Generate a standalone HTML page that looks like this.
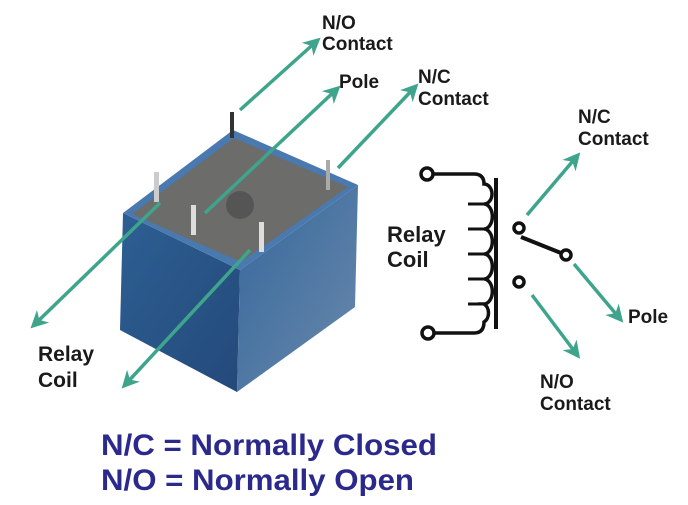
<!DOCTYPE html>
<html><head><meta charset="utf-8"><style>
html,body{margin:0;padding:0;background:#fff;}
svg{display:block;}
text{font-family:"Liberation Sans",sans-serif;font-weight:bold;}
</style></head><body>
<svg width="688" height="505" viewBox="0 0 688 505" xmlns="http://www.w3.org/2000/svg">
<defs>
<marker id="ah" viewBox="0 0 10 10" refX="8" refY="5" markerWidth="5" markerHeight="5" orient="auto-start-reverse">
<path d="M0,0 L10,5 L0,10 L3,5 z" fill="#3ea58c"/></marker>
<linearGradient id="fl" x1="0" y1="0" x2="1" y2="1"><stop offset="0" stop-color="#2d5f93"/><stop offset="1" stop-color="#24497a"/></linearGradient>
<linearGradient id="rt" x1="0" y1="0" x2="1" y2="1"><stop offset="0" stop-color="#35679b"/><stop offset="1" stop-color="#6a89ac"/></linearGradient>
</defs>
<polygon points="123,213 240,270 237,392 120,330" fill="url(#fl)"/>
<polygon points="240,270 358,185 355,307 237,392" fill="url(#rt)"/>
<polygon points="123,213 233,130 358,185 240,270" fill="#4a79b0"/>
<polygon points="132,214 234,138 348,187 241,262" fill="#6c6c6a"/>
<circle cx="240" cy="205" r="14" fill="#555"/>
<rect x="230" y="112" width="4" height="26" fill="#333"/>
<rect x="154" y="172" width="5" height="30" fill="#ccc"/>
<rect x="326" y="160" width="4" height="30" fill="#aaa"/>
<rect x="191" y="205" width="5" height="30" fill="#ddd"/>
<rect x="259" y="222" width="5" height="30" fill="#ddd"/>
<g stroke="#3ea58c" stroke-width="3.5" fill="none">
<line x1="240" y1="110" x2="318" y2="40" marker-end="url(#ah)"/>
<line x1="205" y1="213" x2="338" y2="88" marker-end="url(#ah)"/>
<line x1="338" y1="168" x2="416" y2="86" marker-end="url(#ah)"/>
<line x1="160" y1="203" x2="33" y2="326" marker-end="url(#ah)"/>
<line x1="250" y1="250" x2="124" y2="386" marker-end="url(#ah)"/>
<line x1="527" y1="215" x2="578" y2="155" marker-end="url(#ah)"/>
<line x1="574" y1="264" x2="621" y2="320" marker-end="url(#ah)"/>
<line x1="532" y1="295" x2="578" y2="356" marker-end="url(#ah)"/>
</g>
<g stroke="#111" stroke-width="3.5" fill="none">
<circle cx="427" cy="174" r="6"/>
<circle cx="428" cy="333" r="6"/>
<path d="M433,174 L474,174 Q484,174 484,184 A8,10 0 0 1 484,204 A8,12 0 0 1 484,229 A8,12 0 0 1 484,254 A8,12 0 0 1 484,279 A8,12 0 0 1 484,304 A8,10 0 0 1 484,322 Q484,333 474,333 L434,333"/>
<path d="M468,204 H484 M468,229 H484 M468,254 H484 M468,279 H484 M468,304 H484" stroke-width="3"/>
<line x1="496" y1="178" x2="496" y2="329" stroke-width="4"/>
<circle cx="519" cy="228" r="5"/>
<circle cx="566" cy="255" r="5"/>
<circle cx="519" cy="282" r="5"/>
<line x1="521" y1="237" x2="561" y2="253" stroke-width="4"/>
</g>
<g fill="#1a1a1a" font-size="19">
<text x="322" y="29">N/O</text><text x="322" y="50">Contact</text>
<text x="339" y="88">Pole</text>
<text x="418" y="83">N/C</text><text x="418" y="105">Contact</text>
<text x="578" y="123">N/C</text><text x="578" y="145">Contact</text>
<text x="628" y="323">Pole</text>
<text x="540" y="388">N/O</text><text x="540" y="410">Contact</text>
<text x="387" y="242" font-size="22">Relay</text><text x="387" y="267" font-size="22">Coil</text>
<text x="38" y="361" font-size="21">Relay</text><text x="38" y="387" font-size="21">Coil</text>
</g>
<g fill="#2b2a8c" font-size="30">
<text x="101" y="455" textLength="336" lengthAdjust="spacingAndGlyphs">N/C = Normally Closed</text>
<text x="101" y="490" textLength="313" lengthAdjust="spacingAndGlyphs">N/O = Normally Open</text>
</g>
</svg>
</body></html>
